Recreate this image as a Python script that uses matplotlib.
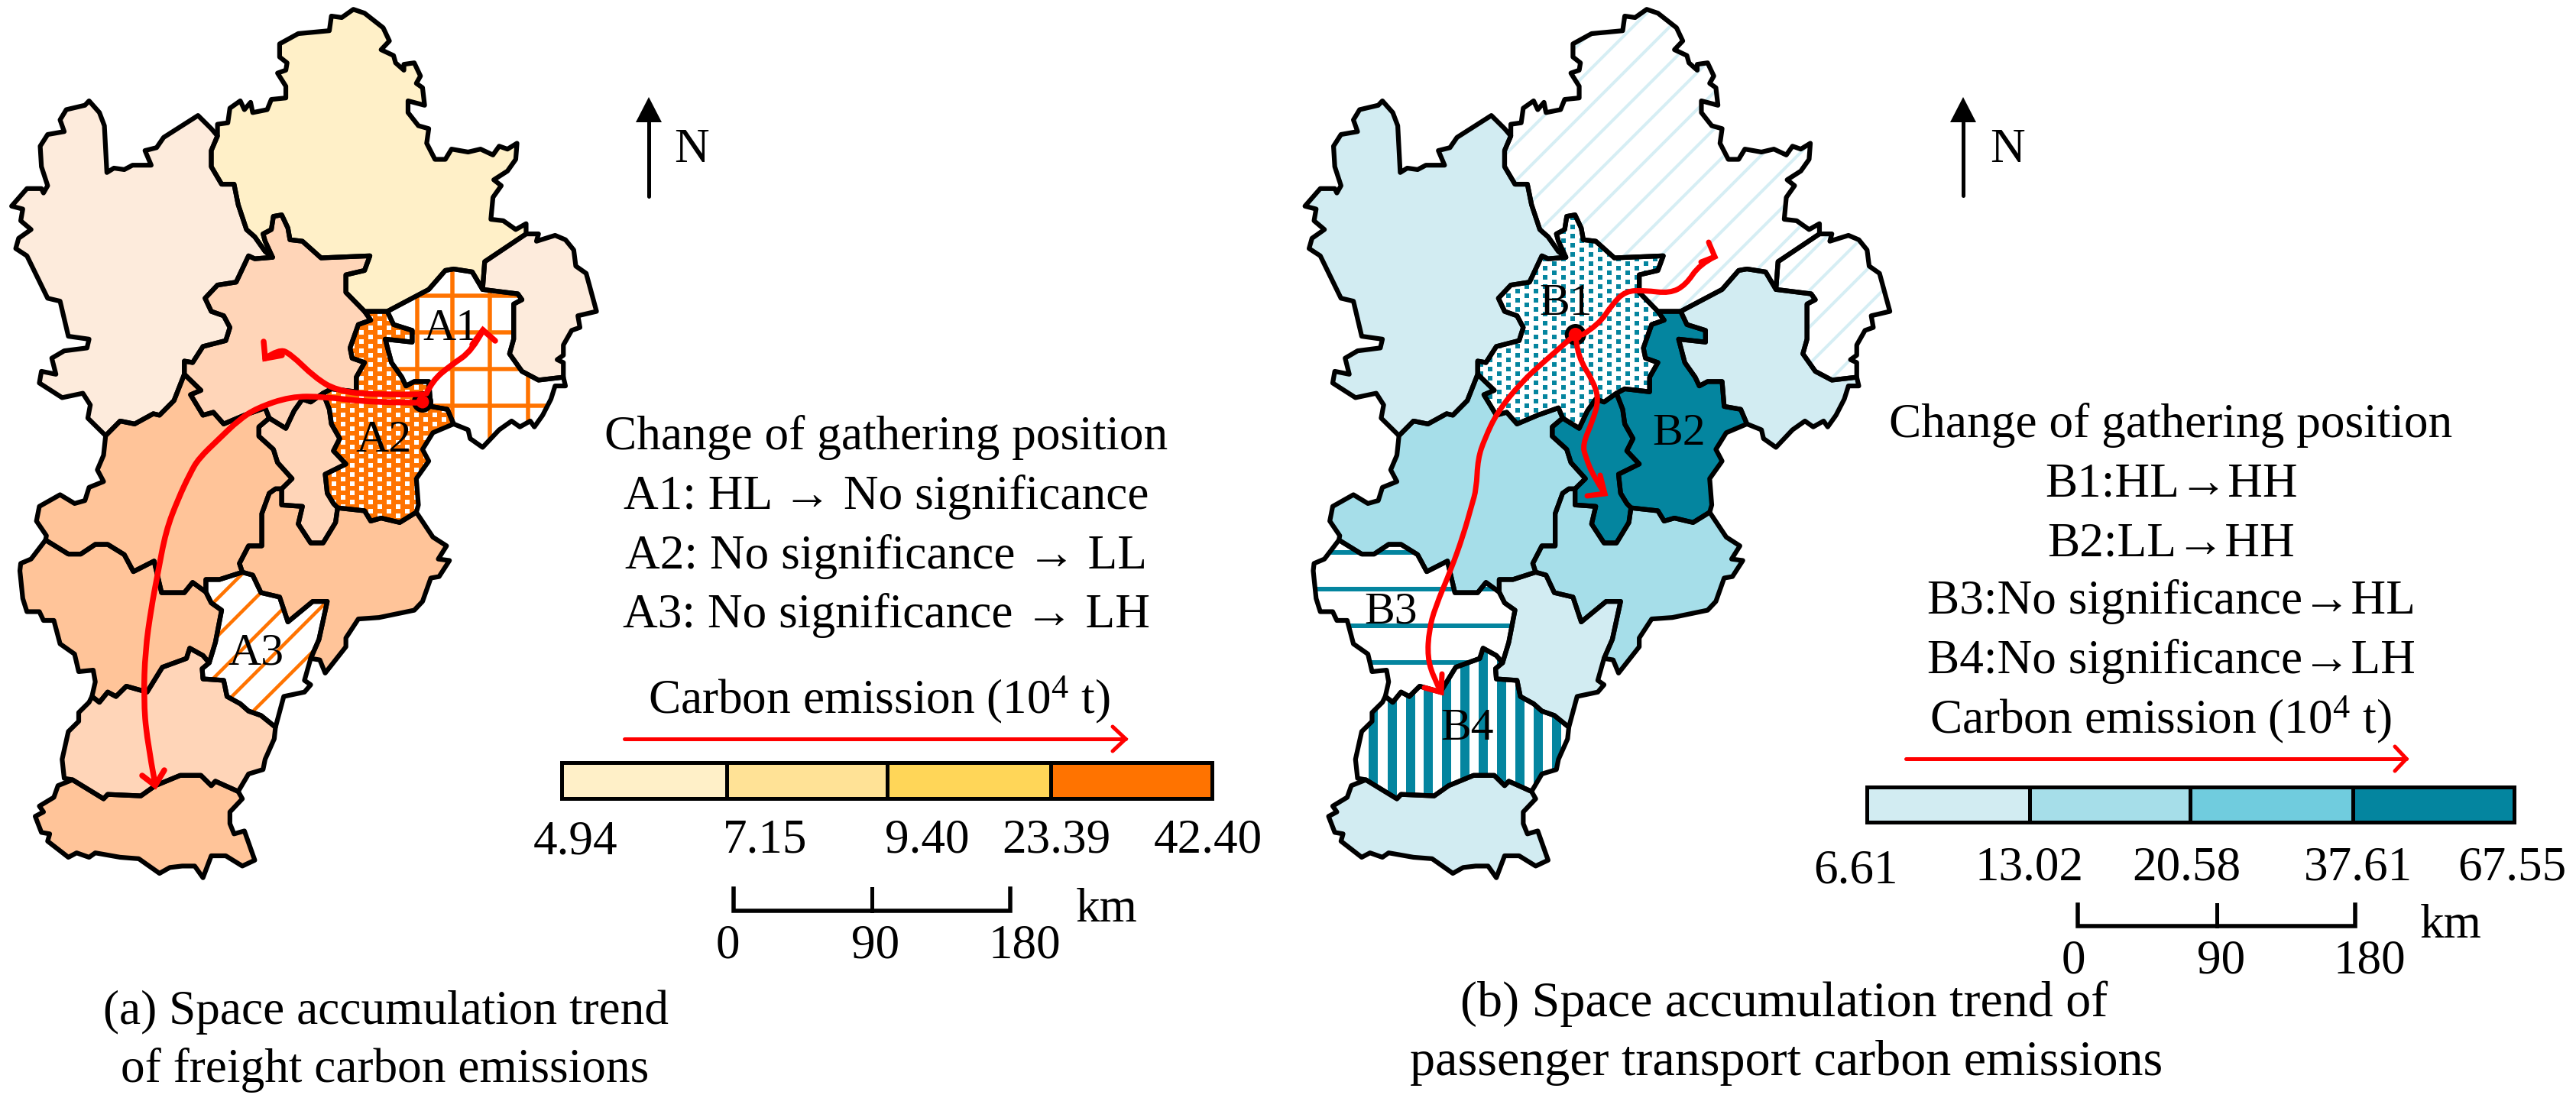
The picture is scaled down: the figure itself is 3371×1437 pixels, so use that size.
import numpy as np
import matplotlib
matplotlib.use("Agg")
import matplotlib.pyplot as plt
from matplotlib.patches import Polygon, PathPatch, Circle, Rectangle
from matplotlib.path import Path

plt.rcParams['font.family'] = ['Liberation Serif', 'DejaVu Serif']
plt.rcParams['mathtext.fontset'] = 'custom'
plt.rcParams['mathtext.rm'] = 'Liberation Serif'
plt.rcParams['mathtext.it'] = 'Liberation Serif'

W, H = 3371, 1437

# map borders (1568 units = 850 px wide, 600 px high)
SX = 850 / 1568
SY = 600 / 1568
OFFSET_B = 1692.5

beijing_chengde = [(880,1065),(835,1000),(835,940),(880,925),(893,875),(775,882),(730,825),(700,820),(695,780),(680,735),(660,740),(655,785),(635,800),(640,825),(658,880)]
beijing_zjk = [(658,880),(615,885),(600,875),(570,965),(525,975),(495,1020),(510,1065),(540,1080),(555,1120),(545,1165),(490,1185),(465,1240),(445,1235),(445,1280)]
beijing_baoding = [(445,1280),(485,1335),(460,1350),(490,1420),(515,1410),(540,1450),(590,1420),(640,1395),(650,1430)]
beijing_langfang = [(650,1430),(690,1465),(710,1405),(730,1365),(750,1375),(780,1345)]
beijing_tianjin = [(780,1345),(800,1330),(860,1340),(860,1290),(880,1240),(850,1225),(845,1190),(865,1110),(895,1095),(880,1065)]
chengde_tianjin = [(880,1065),(935,1065)]
chengde_tangshan = [(935,1065),(1035,990),(1075,925),(1095,920),(1140,930),(1165,990)]
chengde_qhd = [(1165,990),(1170,895),(1270,800)]
chengde_outer = [(1270,800),(1270,765),(1245,785),(1215,755),(1185,750),(1190,675),(1210,635),(1192,615),(1225,585),(1245,545),(1248,490),(1225,510),(1205,500),(1190,530),(1160,510),(1130,520),(1090,510),(1075,545),(1050,545),(1030,490),(1035,440),(1010,430),(985,385),(985,345),(1025,360),(1020,300),(1005,285),(1015,260),(1000,215),(975,220),(975,240),(955,215),(950,190),(920,170),(940,140),(925,95),(880,45),(853,32),(825,60),(800,55),(795,105),(720,115),(675,150),(675,195),(693,215),(690,240),(670,250),(690,295),(690,335),(655,340),(645,375),(610,385),(605,350),(590,375),(580,345),(555,370),(550,420),(525,425),(525,465)]
chengde_zjk = [(525,465),(510,515),(510,570),(535,630),(565,630),(575,700),(595,785),(615,810),(640,860),(658,880)]
zjk_outer = [(525,465),(510,440),(478,395),(395,470),(378,505),(350,515),(365,565),(320,565),(300,580),(275,575),(258,590),(252,430),(240,385),(215,345),(205,360),(160,375),(145,410),(155,450),(115,460),(97,500),(100,570),(115,635),(105,660),(100,645),(65,645),(28,705),(55,715),(50,755),(75,785),(45,815),(38,850),(65,875),(115,1020),(145,1030),(165,1150),(215,1160),(210,1190),(155,1200),(125,1225),(135,1280),(100,1270),(95,1310),(150,1360),(200,1345),(218,1385),(212,1430),(255,1490)]
baoding_zjk = [(255,1490),(290,1440),(325,1450),(370,1415),(385,1420),(420,1370),(445,1280)]
qhd_outer = [(1270,800),(1300,800),(1295,825),(1340,805),(1365,820),(1385,855),(1390,910),(1415,935),(1440,1065),(1395,1080),(1400,1120),(1380,1130),(1360,1180),(1360,1215),(1345,1230),(1360,1240),(1360,1290)]
qhd_tangshan = [(1360,1290),(1300,1300),(1260,1270),(1230,1210),(1240,1160),(1240,1040),(1260,1025),(1250,1005),(1165,990)]
tangshan_outer = [(1360,1290),(1365,1320),(1340,1320),(1330,1365),(1310,1420),(1290,1460),(1280,1440),(1255,1460),(1235,1440),(1205,1470),(1165,1530),(1135,1500),(1130,1470),(1095,1450)]
tianjin_tangshan = [(935,1065),(950,1110),(995,1130),(995,1170),(930,1160),(945,1240),(970,1290),(980,1320),(1000,1305),(1035,1305),(1040,1390),(1080,1400),(1095,1450)]
tianjin_outer = [(1095,1450),(1045,1480),(1020,1537),(1035,1577),(1005,1637),(1010,1727),(1005,1752)]
tianjin_cangzhou = [(1005,1752),(965,1787),(920,1772),(895,1782),(880,1747),(815,1737)]
tianjin_langfang = [(815,1737),(805,1722),(790,1687),(785,1622),(835,1587),(805,1542),(820,1500),(800,1450),(795,1400),(780,1345)]
langfang_cangzhou = [(680,1672),(680,1727),(730,1732),(720,1792),(750,1857),(780,1857),(810,1787),(815,1737)]
langfang_baoding = [(650,1430),(625,1460),(625,1492),(660,1537),(670,1582),(705,1637),(680,1672)]
baoding_cangzhou = [(680,1672),(665,1672),(650,1687),(632,1757),(632,1867),(600,1867),(578,1927),(585,1957)]
baoding_hengshui = [(585,1957),(530,1982),(497,1982),(497,2025)]
baoding_sjz = [(497,2025),(465,1992),(445,2027),(390,2027),(372,1919),(322,1955),(300,1897),(260,1862),(230,1862),(195,1895),(165,1895),(110,1847)]
baoding_outer = [(110,1847),(112,1832),(88,1782),(95,1732),(145,1692),(180,1722),(205,1712),(215,1667),(250,1647),(235,1607),(250,1557),(255,1490)]
cangzhou_hengshui = [(585,1957),(610,1967),(630,2027),(675,2042),(695,2127),(755,2057),(790,2057),(770,2187),(750,2252)]
cangzhou_outer = [(750,2252),(772,2257),(785,2302),(835,2212),(835,2182),(865,2117),(915,2112),(1000,2087),(1020,2057),(1040,1977),(1060,1972),(1085,1917),(1058,1912),(1078,1867),(1045,1837),(1005,1752)]
hengshui_outer = [(750,2252),(735,2327),(750,2342),(735,2367),(685,2382),(665,2487)]
hengshui_xingtai = [(665,2487),(630,2447),(600,2432),(580,2407),(548,2382),(540,2327),(490,2322),(488,2287),(505,2267)]
hengshui_sjz = [(505,2267),(520,2197),(535,2087),(510,2062),(497,2025)]
sjz_xingtai = [(505,2267),(490,2242),(458,2217),(450,2252),(392,2282),(355,2367),(305,2347),(280,2382),(260,2367),(240,2402),(222,2382)]
sjz_outer = [(222,2382),(230,2332),(225,2292),(190,2297),(180,2237),(145,2202),(130,2122),(105,2122),(95,2092),(65,2092),(55,2047),(48,1952),(50,1927),(75,1912),(110,1847)]
xingtai_outer = [(222,2382),(215,2402),(190,2437),(190,2467),(165,2502),(150,2597),(155,2662),(175,2667)]
xingtai_handan = [(175,2667),(250,2732),(260,2717),(340,2722),(375,2687),(435,2652),(485,2652),(510,2687),(520,2672),(575,2707)]
xingtai_outer2 = [(575,2707),(600,2647),(635,2632),(640,2597),(662,2527),(665,2487)]
handan_outer = [(575,2707),(585,2732),(555,2777),(555,2817),(565,2852),(590,2842),(615,2942),(585,2962),(545,2927),(510,2927),(490,3002),(470,2962),(440,2962),(410,2967),(385,2987),(335,2937),(290,2932),(230,2917),(215,2932),(185,2917),(165,2932),(115,2877),(120,2852),(100,2847),(85,2792),(105,2777),(95,2757),(130,2727),(140,2687),(175,2667)]


def rev(arc):
    return arc[::-1]


def ring(*arcs):
    pts = []
    for a in arcs:
        pts += a[1:] if pts else a
    return np.array(pts, dtype=float) * [SX, SY]


CITIES = {
    'beijing': ring(beijing_chengde, beijing_zjk, beijing_baoding, beijing_langfang, beijing_tianjin),
    'chengde': ring(chengde_tianjin, chengde_tangshan, chengde_qhd, chengde_outer, chengde_zjk, rev(beijing_chengde)),
    'zjk': ring(zjk_outer, baoding_zjk, rev(beijing_zjk), rev(chengde_zjk)),
    'qhd': ring(chengde_qhd, qhd_outer, qhd_tangshan),
    'tangshan': ring(chengde_tangshan, rev(qhd_tangshan), tangshan_outer, rev(tianjin_tangshan)),
    'tianjin': ring(chengde_tianjin, tianjin_tangshan, tianjin_outer, tianjin_cangzhou, tianjin_langfang, beijing_tianjin),
    'langfang': ring(beijing_langfang, rev(tianjin_langfang), rev(langfang_cangzhou), rev(langfang_baoding)),
    'baoding': ring(beijing_baoding, langfang_baoding, baoding_cangzhou, baoding_hengshui, baoding_sjz, baoding_outer, baoding_zjk),
    'cangzhou': ring(langfang_cangzhou, rev(tianjin_cangzhou), rev(cangzhou_outer), rev(cangzhou_hengshui), rev(baoding_cangzhou)),
    'hengshui': ring(cangzhou_hengshui, hengshui_outer, hengshui_xingtai, hengshui_sjz, rev(baoding_hengshui)),
    'sjz': ring(rev(baoding_sjz), rev(hengshui_sjz), sjz_xingtai, sjz_outer),
    'xingtai': ring(rev(sjz_xingtai), rev(hengshui_xingtai), rev(xingtai_outer2), rev(xingtai_handan), rev(xingtai_outer)),
    'handan': ring(xingtai_handan, handan_outer),
}

ORANGE = '#FF7300'
TEAL = '#04859F'
HATCH_B = '#D6EEF4'

FILL_A = {'chengde': '#FFF0C8', 'zjk': '#FDEBDC', 'qhd': '#FDEBDC', 'beijing': '#FFD5B8',
          'langfang': '#FFD5B8', 'xingtai': '#FFD5B8', 'baoding': '#FFC499', 'cangzhou': '#FFC499',
          'sjz': '#FFC499', 'handan': '#FFC499', 'tangshan': 'white', 'tianjin': ORANGE, 'hengshui': 'white'}
FILL_B = {'chengde': 'white', 'qhd': 'white', 'zjk': '#D2ECF2', 'tangshan': '#D2ECF2', 'hengshui': '#D2ECF2',
          'handan': '#D2ECF2', 'baoding': '#A6DEE9', 'cangzhou': '#A6DEE9', 'tianjin': TEAL, 'langfang': TEAL,
          'beijing': 'white', 'sjz': 'white', 'xingtai': 'white'}

LEGEND_A = ['#FFF0C8', '#FFE296', '#FFD658', ORANGE]
LEGEND_B = ['#D2ECF2', '#A6DEE9', '#70CCDE', TEAL]
BREAKS_A = ['4.94', '7.15', '9.40', '23.39', '42.40']
BREAKS_B = ['6.61', '13.02', '20.58', '37.61', '67.55']
SCALE_LABELS = ['0', '90', '180']

TEXT_A = ['Change of gathering position', 'A1: HL \u2192 No significance',
          'A2: No significance \u2192 LL', 'A3: No significance \u2192 LH']
TEXT_B = ['Change of gathering position', 'B1:HL\u2192HH', 'B2:LL\u2192HH',
          'B3:No significance\u2192HL', 'B4:No significance\u2192LH']
CARBON = 'Carbon emission (10$^{4}$ t)'

# red flow curves as control points, in output pixels
FLOW_A = [
    ([(553,527),(488,527),(423,519),(380,519),(336,534),(312,550),(287,574),(260,600),(249,619),(233,653),(217,695),(206,753),(198,795),(190,852),(188,914),(192,967),(203,1026)],
     [(186,1015),(203,1028),(215,1008)]),
    ([(553,516),(488,517),(440,511),(412,494),(380,463),(365,457),(347,469)],
     [(345,447),(347,469),(369,465)]),
    ([(558,515),(566,498),(590,478),(618,459),(632,432)],
     [(618,451),(632,432),(648,446)]),
]
FLOW_B = [
    ([(2061,438),(2023,471),(1990,501),(1959,540),(1943,574),(1934,600),(1932,640),(1926,661),(1915,700),(1899,745),(1878,795),(1870,825),(1868,860),(1876,887),(1886,906)],
     [(1864,900),(1886,906),(1887,882)]),
    ([(2063,448),(2065,467),(2086,501),(2092,524),(2084,551),(2071,582),(2075,598),(2085,623),(2100,646)],
     [(2077,649),(2100,646),(2094,622)]),
    ([(2071,438),(2092,425),(2110,398),(2127,381),(2152,380),(2185,384),(2206,373),(2224,346),(2244,336)],
     [(2236,317),(2244,336),(2226,343)]),
]

fig = plt.figure(figsize=(W / 100, H / 100), dpi=100)
ax = fig.add_axes([0, 0, 1, 1])
ax.set_xlim(0, W)
ax.set_ylim(H, 0)
ax.axis('off')

PX = 0.72  # points per output pixel


def curve_patch(pts, lw):
    pts = np.array(pts, dtype=float)
    verts = [pts[0]]
    codes = [Path.MOVETO]
    for i in range(1, len(pts) - 1):
        mid = (pts[i] + pts[i + 1]) / 2 if i < len(pts) - 2 else pts[i + 1]
        verts += [pts[i], mid]
        codes += [Path.CURVE3, Path.CURVE3]
    return PathPatch(Path(verts, codes), fill=False, ec='#FF0000', lw=lw * PX, capstyle='round', zorder=6)


def hatch_lines(clip, hy=(), vx=(), diag=(), color=ORANGE, w=6):
    xmin, ymin = clip.get_xy().min(axis=0)
    xmax, ymax = clip.get_xy().max(axis=0)
    items = []
    for y in hy:
        items.append(ax.plot([xmin, xmax], [y, y], color=color, lw=w * PX, solid_capstyle='butt', zorder=2)[0])
    for x in vx:
        items.append(ax.plot([x, x], [ymin, ymax], color=color, lw=w * PX, solid_capstyle='butt', zorder=2)[0])
    for s in diag:
        items.append(ax.plot([xmin, xmax], [s - xmin, s - xmax], color=color, lw=w * PX, solid_capstyle='butt', zorder=2)[0])
    for it in items:
        it.set_clip_path(clip)


def hatch_dots(clip, anchor, color):
    xmin, ymin = clip.get_xy().min(axis=0)
    xmax, ymax = clip.get_xy().max(axis=0)
    xs, ys = [], []
    step = 12.0
    for i, x in enumerate(np.arange(anchor[0] - step * 40, xmax + step, step)):
        for y in np.arange(anchor[1] - step * 40 + (i % 2) * step / 2, ymax + step, step):
            if xmin <= x and ymin <= y:
                xs.append(x)
                ys.append(y)
    sc = ax.scatter(xs, ys, s=(6 * PX) ** 2, marker='s', c=color, linewidths=0, zorder=2)
    sc.set_clip_path(clip)


def draw_map(fills, dx):
    patches = {}
    for name, pts in CITIES.items():
        patches[name] = Polygon(pts + [dx, 0], closed=True, fc=fills[name], ec='none', zorder=1)
        ax.add_patch(patches[name])
    return patches


def draw_outlines(dx):
    for name, pts in CITIES.items():
        ax.add_patch(Polygon(pts + [dx, 0], closed=True, fill=False, ec='black', lw=6.2 * PX,
                             joinstyle='round', zorder=3))


def draw_flows(flows, marker, black_r, red_r, lw):
    ax.add_patch(Circle(marker, black_r, fc='black', ec='none', zorder=5))
    for curve, head in flows:
        ax.add_patch(curve_patch(curve, lw))
        hx, hy = zip(*head)
        ax.plot(hx, hy, color='#FF0000', lw=lw * PX, solid_capstyle='round', solid_joinstyle='miter', zorder=6)
    ax.add_patch(Circle(marker, red_r, fc='#FF0000', ec='none', zorder=7))


def north_arrow(x, y_tail, y_tip, y_base, nx):
    ax.plot([x, x], [y_tail, y_base], color='black', lw=5 * PX, solid_capstyle='round', zorder=3)
    ax.add_patch(Polygon([(x, y_tip), (x - 17, y_base), (x + 17, y_base)], fc='black', ec='none', zorder=3))
    ax.text(nx, 212, 'N', fontsize=FS, ha='left', va='baseline')


def color_bar(edges, y0, y1, colors):
    for c, a, b in zip(colors, edges[:-1], edges[1:]):
        ax.add_patch(Rectangle((a, y0), b - a, y1 - y0, fc=c, ec='black', lw=5 * PX, joinstyle='miter', zorder=3))


def red_arrow(x0, x1, y, barb_x):
    ax.plot([x0, x1], [y, y], color='#FF0000', lw=5 * PX, solid_capstyle='round')
    ax.plot([barb_x, x1, barb_x], [y - 16, y, y + 16], color='#FF0000', lw=5 * PX,
            solid_capstyle='round', solid_joinstyle='miter')


def scale_bar(xs, y_top, y_base, label_xs, label_y, km_x, km_y):
    ax.plot([xs[0], xs[0], xs[2], xs[2]], [y_top, y_base, y_base, y_top], color='black', lw=5.5 * PX,
            solid_joinstyle='miter')
    ax.plot([xs[1], xs[1]], [y_top, y_base], color='black', lw=5 * PX)
    for lab, x in zip(SCALE_LABELS, label_xs):
        ax.text(x, label_y, lab, fontsize=FS, ha='center', va='baseline')
    ax.text(km_x, km_y, 'km', fontsize=FS, ha='left', va='baseline')


FS = 45.5
FS_LABEL = 43
FS_CAPTION_B = 47.5

# panel (a)
pa = draw_map(FILL_A, 0)
hatch_lines(pa['tangshan'], hy=[387, 435, 483, 531], vx=[546, 592, 641, 691], color=ORANGE, w=5.5)
hatch_dots(pa['tianjin'], (473.3, 603.3), 'white')
hatch_lines(pa['hengshui'], diag=[1068, 1117, 1167, 1215, 1262, 1311], color=ORANGE, w=4.5)
draw_outlines(0)
draw_flows(FLOW_A, (553, 526), 14, 8.5, 7.5)
for lab, x, y in [('A1', 590, 445), ('A2', 502, 591), ('A3', 335, 869)]:
    ax.text(x, y, lab, fontsize=FS_LABEL, ha='center', va='baseline', zorder=4)

for line, y in zip(TEXT_A, [588, 666, 744, 821]):
    ax.text(1160, y, line, fontsize=FS, ha='center', va='baseline')
ax.text(1150, 933, CARBON, fontsize=FS, ha='center', va='baseline')
red_arrow(817, 1473, 967, 1456)
color_bar([735, 951, 1161, 1375, 1586], 997.5, 1044.5, LEGEND_A)
for lab, x, y in zip(BREAKS_A, [753, 1001, 1213, 1382, 1581], [1117, 1115, 1115, 1115, 1115]):
    ax.text(x, y, lab, fontsize=FS, ha='center', va='baseline')
scale_bar([960, 1141, 1322], 1163, 1192, [952, 1146, 1341], 1253, 1408, 1206)
north_arrow(849, 257, 127, 160, 882)
ax.text(505, 1340, '(a) Space accumulation trend', fontsize=FS, ha='center', va='baseline')
ax.text(504, 1416, 'of freight carbon emissions', fontsize=FS, ha='center', va='baseline')

# panel (b)
pb = draw_map(FILL_B, OFFSET_B)
diag_b = [2364 + 48 * k for k in range(-12, 16)]
hatch_lines(pb['chengde'], diag=diag_b, color=HATCH_B, w=4)
hatch_lines(pb['qhd'], diag=diag_b, color=HATCH_B, w=4)
hatch_dots(pb['beijing'], (2046, 423), TEAL)
hatch_lines(pb['sjz'], hy=[723, 771, 819, 867], color=TEAL, w=6)
hatch_lines(pb['xingtai'], vx=[1797.4, 1821.5, 1846, 1869, 1893, 1917, 1941, 1965, 1989, 2013, 2037], color=TEAL, w=12)
draw_outlines(OFFSET_B)
draw_flows(FLOW_B, (2061.7, 438), 14, 9, 7)
for lab, x, y in [('B1', 2049, 412), ('B2', 2197, 582), ('B3', 1820, 816), ('B4', 1920, 968)]:
    ax.text(x, y, lab, fontsize=FS_LABEL, ha='center', va='baseline', zorder=4)

for line, y in zip(TEXT_B, [572, 650, 727, 803, 881]):
    ax.text(2841, y, line, fontsize=FS, ha='center', va='baseline')
ax.text(2827, 959, CARBON, fontsize=FS, ha='center', va='baseline')
red_arrow(2494, 3149, 993, 3134)
color_bar([2443, 2655.5, 2866, 3079, 3290], 1030, 1075.5, LEGEND_B)
for lab, x, y in zip(BREAKS_B, [2428, 2655, 2861, 3086, 3287], [1155, 1152, 1152, 1152, 1152]):
    ax.text(x, y, lab, fontsize=FS, ha='center', va='baseline')
scale_bar([2718.6, 2901, 3082], 1184, 1212, [2713, 2907, 3101], 1274, 3167, 1227)
north_arrow(2569, 256, 127, 160, 2604)
ax.text(2335, 1330, '(b) Space accumulation trend of', fontsize=FS_CAPTION_B, ha='center', va='baseline')
ax.text(2338, 1407, 'passenger transport carbon emissions', fontsize=FS_CAPTION_B, ha='center', va='baseline')

fig.savefig('out.png', dpi=100, facecolor='white')
